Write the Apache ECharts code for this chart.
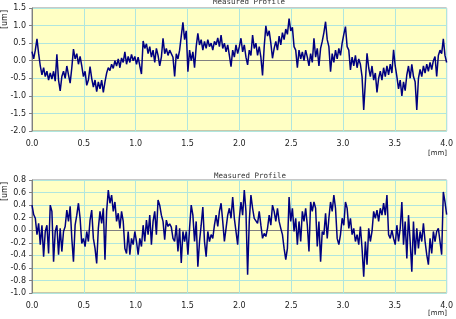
<!DOCTYPE html>
<html>
<head>
<meta charset="utf-8">
<script src="https://cdn.jsdelivr.net/npm/echarts@6/dist/echarts.min.js"></script>
<style>
  html, body { margin: 0; padding: 0; background: #fff; }
  #chart { width: 456px; height: 319px; }
</style>
</head>
<body>
<div id="chart"></div>
<script>
// sampling step along the profile [mm]
var step = 0.016;

// upper profile [um], one value per step from 0.0 mm
var profileTop = [
  0.26, 0.05, 0.30, 0.62, 0.20, -0.15, -0.40, -0.20, -0.45, -0.30,
  -0.55, -0.35, -0.52, -0.30, -0.58, 0.18, -0.55, -0.86, -0.45, -0.30,
  -0.50, -0.15, -0.40, -0.64, -0.20, 0.33, 0.05, 0.20, -0.10, 0.12,
  -0.15, -0.45, -0.30, -0.70, -0.55, -0.17, -0.50, -0.75, -0.55, -0.88,
  -0.60, -0.80, -0.55, -0.90, -0.60, -0.35, -0.20, -0.28, -0.10, -0.22,
  0.00, -0.15, 0.05, -0.20, 0.08, -0.05, 0.25, -0.10, 0.12, -0.05,
  0.18, 0.00, 0.12, -0.10, 0.10, -0.15, -0.38, 0.56, 0.35, 0.48,
  0.20, 0.40, 0.10, 0.30, -0.05, 0.35, 0.15, -0.15, 0.10, 0.64,
  0.20, 0.35, 0.15, 0.30, 0.25, 0.10, -0.45, 0.20, 0.05, 0.30,
  0.70, 1.09, 0.60, 0.85, -0.31, 0.30, 0.00, 0.25, -0.20, 0.40,
  0.78, 0.45, 0.60, 0.30, 0.55, 0.35, 0.60, 0.40, 0.50, 0.30,
  0.55, 0.45, 0.65, 0.40, 0.73, 0.35, 0.50, 0.25, 0.45, 0.15,
  -0.17, 0.30, 0.10, 0.45, 0.20, 0.40, 0.64, 0.25, 0.45, 0.10,
  -0.12, 0.30, 0.15, 0.73, 0.35, 0.50, 0.15, 0.40, 0.10, -0.42,
  0.40, 0.99, 0.70, 0.85, 0.50, 0.07, 0.35, 0.55, 0.30, 0.70,
  0.45, 0.80, 0.60, 0.90, 0.75, 1.20, 0.85, 0.95, 0.40, 0.30,
  -0.20, 0.30, 0.05, 0.25, 0.00, 0.30, 0.10, -0.15, 0.20, -0.05,
  0.64, 0.10, 0.35, -0.15, 0.35, 0.55, 0.80, 1.11, 0.60, 0.40,
  -0.31, 0.20, -0.05, 0.30, 0.05, 0.35, 0.15, 0.50, 0.75, 0.97,
  0.40, 0.30, -0.26, 0.10, -0.15, 0.15, -0.20, 0.05, -0.10, -0.45,
  -1.40, -0.60, 0.21, -0.20, -0.45, -0.15, -0.55, -0.35, -0.90, -0.50,
  -0.30, -0.55, -0.20, -0.45, -0.15, -0.40, -0.10, -0.35, 0.31, -0.15,
  -0.45, -0.80, -0.55, -1.00, -0.60, -0.85, -0.40, -0.15, -0.50, -0.10,
  -0.45, -0.60, -1.40, -0.50, -0.25, -0.45, -0.15, -0.35, -0.10, -0.30,
  -0.05, -0.25, 0.00, 0.12, -0.45, 0.15, 0.30, 0.20, 0.62, 0.15,
  -0.05
];

// lower profile [um], same sampling
var profileBottom = [
  0.40, 0.25, 0.19, -0.07, 0.11, -0.23, 0.08, -0.42, -0.02, 0.08,
  -0.37, 0.40, 0.30, -0.50, -0.02, 0.08, -0.39, 0.03, -0.34, -0.02,
  0.06, 0.32, 0.14, 0.38, -0.13, -0.50, 0.08, 0.24, 0.43, 0.19,
  -0.21, -0.13, -0.26, -0.02, -0.18, 0.16, 0.32, -0.13, -0.29, -0.53,
  0.03, 0.30, 0.11, 0.35, -0.47, 0.30, 0.64, 0.43, 0.56, 0.30,
  0.45, 0.14, 0.27, 0.03, 0.30, 0.14, -0.29, -0.37, -0.02, -0.39,
  -0.13, -0.23, -0.02, -0.18, -0.39, -0.13, -0.26, 0.08, -0.18, 0.16,
  -0.07, 0.24, -0.23, 0.14, 0.30, -0.07, 0.48, 0.40, 0.24, 0.14,
  -0.15, 0.16, 0.06, 0.10, 0.05, -0.13, -0.18, 0.08, -0.34, 0.03,
  -0.52, -0.02, -0.18, -0.02, -0.39, 0.03, 0.40, 0.24, -0.18, 0.14,
  -0.58, -0.18, 0.08, 0.37, -0.18, -0.42, -0.02, -0.18, -0.07, -0.13,
  0.08, 0.24, 0.06, 0.30, 0.43, 0.14, -0.18, 0.03, 0.24, 0.35,
  0.19, 0.53, 0.19, -0.02, -0.23, 0.19, 0.45, 0.24, 0.64, 0.30,
  -0.71, 0.14, 0.56, 0.35, 0.19, 0.22, 0.11, 0.30, 0.08, -0.13,
  -0.05, -0.10, 0.03, 0.24, 0.08, 0.40, 0.30, 0.14, 0.35, 0.14,
  0.03, -0.07, -0.29, -0.47, -0.29, 0.53, 0.14, 0.35, -0.02, 0.19,
  -0.23, 0.14, -0.18, 0.30, 0.14, 0.35, 0.08, -0.34, 0.45, 0.30,
  0.45, 0.35, -0.26, 0.14, -0.50, -0.02, -0.07, 0.27, -0.13, 0.19,
  0.45, 0.30, 0.56, 0.35, -0.13, -0.23, -0.07, 0.19, 0.08, 0.45,
  0.35, 0.03, 0.19, -0.07, 0.03, -0.18, -0.07, -0.23, 0.06, -0.29,
  -0.74, -0.18, -0.55, 0.03, -0.18, -0.02, 0.30, 0.19, 0.32, 0.14,
  0.35, 0.24, 0.43, 0.24, 0.56, -0.07, -0.13, 0.00, -0.13, -0.23,
  0.08, -0.18, 0.03, 0.45, -0.23, 0.14, -0.45, 0.24, -0.18, -0.66,
  0.14, -0.39, 0.03, -0.29, -0.02, -0.18, 0.11, -0.18, -0.39, -0.55,
  -0.13, -0.37, -0.02, -0.18, -0.02, 0.03, -0.18, -0.39, 0.61, 0.45,
  0.25
];

var xTicks = [0, 0.5, 1, 1.5, 2, 2.5, 3, 3.5, 4];
var titleText = 'Measured Profile';

function pairs(arr) {
  return arr.map(function (v, i) { return [+(i * step).toFixed(3), v]; });
}

var labelStyle = { color: '#222', fontSize: 8, fontFamily: 'DejaVu Sans' };
var grid1 = { left: 32, top: 8, width: 419, height: 123 };
var grid2 = { left: 32, top: 180, width: 419, height: 113 };

function xAxis(idx) {
  return {
    type: 'value', gridIndex: idx, min: xTicks[0], max: xTicks[xTicks.length - 1], interval: 0.5,
    axisLine: { show: true, lineStyle: { color: '#808080' } },
    axisTick: { show: false },
    axisLabel: Object.assign({ margin: 9, formatter: function (v) { return v.toFixed(1); } }, labelStyle),
    splitLine: { show: true, lineStyle: { color: '#b0e6de', width: 1 } }
  };
}

function yAxis(idx, min, max, interval, colors) {
  return {
    type: 'value', gridIndex: idx, min: min, max: max, interval: interval,
    axisLine: { show: true, lineStyle: { color: '#808080' } },
    axisTick: { show: true, inside: false, length: 3, lineStyle: { color: '#808080' } },
    axisLabel: Object.assign({ margin: 6, formatter: function (v) { return v.toFixed(1); } }, labelStyle),
    splitLine: { show: true, lineStyle: { color: colors, width: 1 } }
  };
}

var chart = echarts.init(document.getElementById('chart'), null, { renderer: 'canvas' });

var cy = '#b0e6de', zg = '#8a8a70';
var option = {
  backgroundColor: '#ffffff',
  animation: false,
  title: [
    { text: titleText, left: 244, top: -7, textAlign: 'center',
      textStyle: { fontFamily: 'DejaVu Sans Mono', fontSize: 7.5, fontWeight: 'normal', color: '#333' } },
    { text: titleText, left: 245, top: 167, textAlign: 'center',
      textStyle: { fontFamily: 'DejaVu Sans Mono', fontSize: 7.5, fontWeight: 'normal', color: '#333' } }
  ],
  grid: [
    Object.assign({ show: true, backgroundColor: '#ffffc4', borderColor: '#909090', borderWidth: 1 }, grid1),
    Object.assign({ show: true, backgroundColor: '#ffffc4', borderColor: '#909090', borderWidth: 1 }, grid2)
  ],
  xAxis: [xAxis(0), xAxis(1)],
  yAxis: [
    yAxis(0, -2, 1.5, 0.5, [cy, cy, cy, cy, zg, cy, cy, cy]),
    yAxis(1, -1, 0.8, 0.2, [cy, cy, cy, cy, cy, zg, cy, cy, cy, cy])
  ],
  graphic: [
    { type: 'text', left: 1, top: 10, rotation: Math.PI / 2,
      style: { text: '[um]', font: '8px DejaVu Sans', fill: '#222' } },
    { type: 'text', left: 1, top: 182, rotation: Math.PI / 2,
      style: { text: '[um]', font: '8px DejaVu Sans', fill: '#222' } },
    { type: 'text', right: 9, top: 150,
      style: { text: '[mm]', font: '7px DejaVu Sans', fill: '#222' } },
    { type: 'text', right: 9, top: 310,
      style: { text: '[mm]', font: '7px DejaVu Sans', fill: '#222' } }
  ],
  series: [
    { type: 'line', xAxisIndex: 0, yAxisIndex: 0, data: pairs(profileTop), showSymbol: false,
      lineStyle: { color: '#000080', width: 1.5 } },
    { type: 'line', xAxisIndex: 1, yAxisIndex: 1, data: pairs(profileBottom), showSymbol: false,
      lineStyle: { color: '#000080', width: 1.5 } }
  ]
};
chart.setOption(option);
</script>
</body>
</html>
